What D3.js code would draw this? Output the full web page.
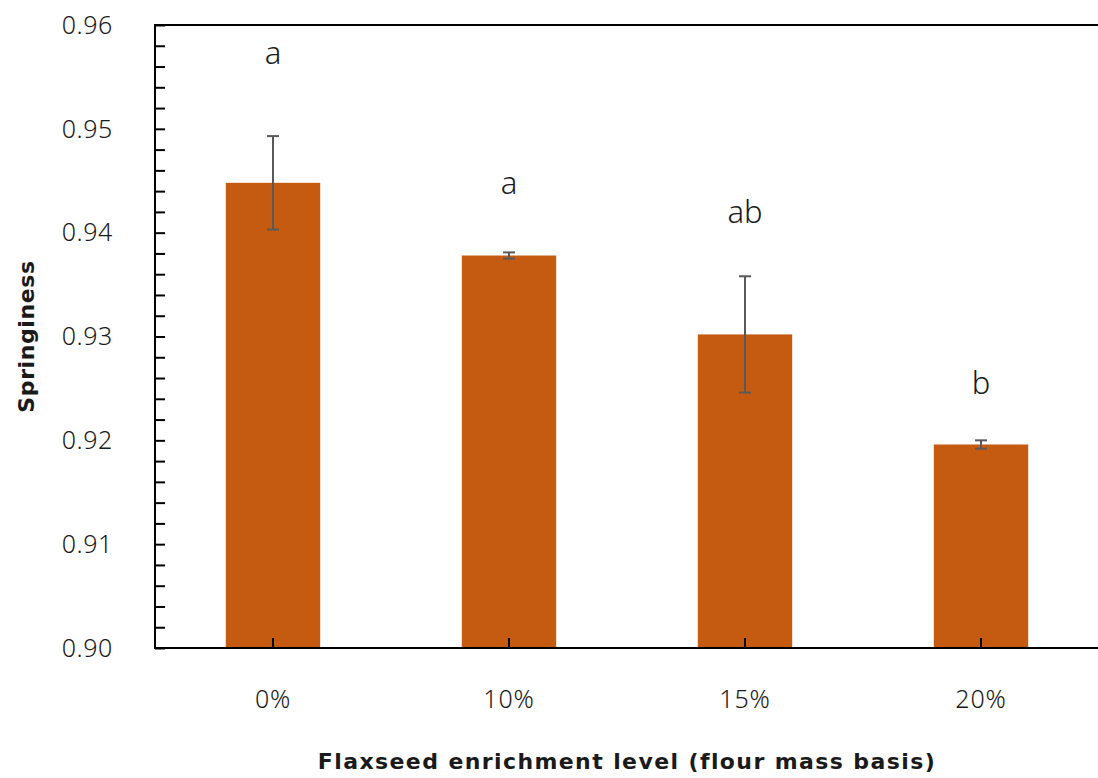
<!DOCTYPE html>
<html>
<head>
<meta charset="utf-8">
<script src="https://cdn.jsdelivr.net/npm/d3@7"></script>
<style>
  html, body { margin: 0; padding: 0; background: #fff; }
  svg { display: block; }
  text { font-family: "Noto Sans", "Open Sans", sans-serif; fill: #1a1a1a; }
  .title { font-family: "DejaVu Sans", "Noto Sans", sans-serif; font-weight: 700; }
</style>
</head>
<body>
<svg id="chart" width="1098" height="778"></svg>
<script>
// Springiness of bread by flaxseed enrichment level
const categories = ["0%", "10%", "15%", "20%"];
const means      = [0.9448, 0.9378, 0.9302, 0.9196];
const errors     = [0.0045, 0.0003, 0.0056, 0.0004];
const groups     = ["a", "a", "ab", "b"];
const groupY     = [0.9562, 0.9437, 0.9409, 0.9245];   // letter baseline, in springiness units
const yTicks     = [0.90, 0.91, 0.92, 0.93, 0.94, 0.95, 0.96];
const yMinorStep = 0.002;

const svg = d3.select("#chart");
const plotL = 155, plotR = 1099, plotT = 25, plotB = 648;

const x = d3.scaleBand().domain(categories).range([plotL, plotR]).paddingInner(0).paddingOuter(0);
const y = d3.scaleLinear().domain([0.90, 0.96]).range([plotB, plotT]);
const barW = x.bandwidth() * 0.4;

// bars
svg.append("g").selectAll("rect")
  .data(categories)
  .join("rect")
  .attr("x", (d) => x(d) + (x.bandwidth() - barW) / 2)
  .attr("y", (d, i) => y(means[i]))
  .attr("width", barW)
  .attr("height", (d, i) => y(0.90) - y(means[i]))
  .attr("fill", "#C55A11");

// error bars
const eb = svg.append("g").attr("stroke", "#595959").attr("stroke-width", 2).attr("fill", "none");
categories.forEach((c, i) => {
  const cx = x(c) + x.bandwidth() / 2;
  const hi = y(means[i] + errors[i]), lo = y(means[i] - errors[i]);
  eb.append("line").attr("x1", cx).attr("x2", cx).attr("y1", hi).attr("y2", lo);
  eb.append("line").attr("x1", cx - 6).attr("x2", cx + 6).attr("y1", hi).attr("y2", hi);
  eb.append("line").attr("x1", cx - 6).attr("x2", cx + 6).attr("y1", lo).attr("y2", lo);
});

// significance letters
svg.append("g").selectAll("text")
  .data(groups)
  .join("text")
  .attr("x", (d, i) => x(categories[i]) + x.bandwidth() / 2)
  .attr("y", (d, i) => y(groupY[i]))
  .attr("text-anchor", "middle")
  .attr("font-size", 31)
  .attr("font-weight", 300)
  .text((d) => d);

// y axis with inward ticks (major + minor)
const minorTicks = d3.range(0.90, 0.9601, yMinorStep);
const yAxis = svg.append("g").attr("transform", `translate(${plotL},0)`)
  .call(d3.axisRight(y).tickValues(minorTicks).tickSize(10).tickFormat(""));
yAxis.select(".domain").remove();
yAxis.selectAll(".tick line").attr("stroke", "#000").attr("stroke-width", 2);

svg.append("g").selectAll("text")
  .data(yTicks)
  .join("text")
  .attr("x", 113)
  .attr("y", (d) => y(d))
  .attr("dy", "0.35em")
  .attr("text-anchor", "end")
  .attr("font-size", 25)
  .attr("letter-spacing", 0.6)
  .attr("font-weight", 300)
  .text((d) => d3.format(".2f")(d));

// x axis with inward ticks
const xAxis = svg.append("g").attr("transform", `translate(0,${plotB})`)
  .call(d3.axisTop(x).tickSize(10).tickFormat(""));
xAxis.select(".domain").remove();
xAxis.selectAll(".tick line").attr("stroke", "#000").attr("stroke-width", 2);

svg.append("g").selectAll("text")
  .data(categories)
  .join("text")
  .attr("x", (d) => x(d) + x.bandwidth() / 2)
  .attr("y", 708)
  .attr("text-anchor", "middle")
  .attr("font-size", 25)
  .attr("letter-spacing", 0.8)
  .attr("font-weight", 300)
  .text((d) => d);

// frame lines: left, bottom, top
const frame = svg.append("g").attr("stroke", "#000").attr("stroke-width", 2);
frame.append("line").attr("x1", plotL).attr("x2", plotL).attr("y1", plotT - 1).attr("y2", plotB + 1);
frame.append("line").attr("x1", plotL - 1).attr("x2", 1098).attr("y1", plotB).attr("y2", plotB);
frame.append("line").attr("x1", plotL - 1).attr("x2", 1098).attr("y1", plotT).attr("y2", plotT);

// axis titles
svg.append("text")
  .attr("class", "title")
  .attr("x", (plotL + plotR) / 2)
  .attr("y", 769)
  .attr("text-anchor", "middle")
  .attr("font-size", 22)
  .attr("letter-spacing", 1.4)
  .text("Flaxseed enrichment level (flour mass basis)");

svg.append("text")
  .attr("class", "title")
  .attr("transform", `translate(34,${(plotT + plotB) / 2}) rotate(-90)`)
  .attr("text-anchor", "middle")
  .attr("font-size", 22)
  .attr("letter-spacing", 0.6)
  .text("Springiness");
</script>
</body>
</html>
